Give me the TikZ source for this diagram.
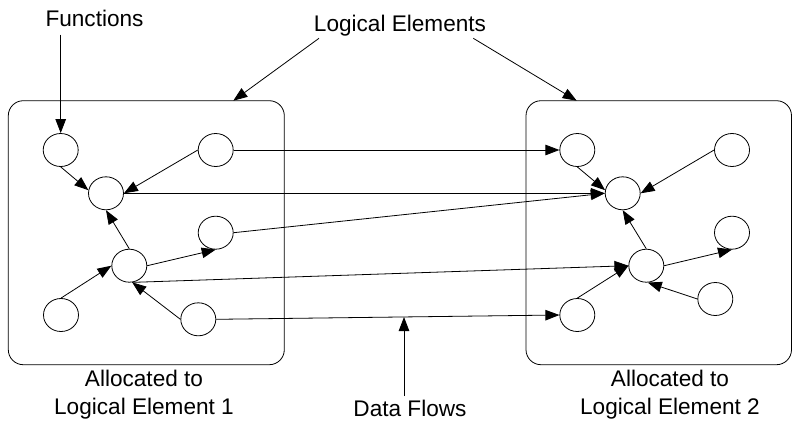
\documentclass[tikz,border=0pt]{standalone}
\usepackage{fontspec}
\setmainfont{Liberation Sans}
\usetikzlibrary{shapes.geometric,arrows.meta}
\begin{document}
\begin{tikzpicture}[x=1pt,y=-1pt,
  fn/.style={draw, ellipse, minimum width=35pt, minimum height=33pt, inner sep=0pt, line width=0.8pt},
  elem/.style={draw, rounded corners=15pt, line width=0.8pt, inner sep=0pt},
  flow/.style={line width=0.8pt, -{Triangle[length=14pt,width=10.5pt]}},
  lbl/.style={font=\fontsize{22.6}{28}\selectfont, inner sep=0pt, align=center}]
\useasboundingbox (0,0) rectangle (792,421);

% allocation boxes
\node[elem, minimum width=276pt, minimum height=264pt] (box1) at (146.3,232.7) {};
\node[elem, minimum width=265.5pt, minimum height=264pt] (box2) at (658.75,232.7) {};

% functions, element 1
\node[fn] (L1) at (60.7,150) {};
\node[fn] (L2) at (106,193.3) {};
\node[fn] (L3) at (215.7,150) {};
\node[fn] (L4) at (215.7,232.7) {};
\node[fn] (L5) at (129.3,265.7) {};
\node[fn] (L6) at (61,315) {};
\node[fn] (L7) at (198.3,319.3) {};

% functions, element 2
\node[fn] (R1) at (577.3,150) {};
\node[fn] (R2) at (622.7,193.3) {};
\node[fn] (R3) at (732,150) {};
\node[fn] (R4) at (732,232.7) {};
\node[fn] (R5) at (646.3,265.7) {};
\node[fn] (R6) at (577.3,315) {};
\node[fn] (R7) at (715.3,299) {};

% labels
\node[lbl, anchor=base] (tfun) at (94.5,26.5) {Functions};
\node[lbl, anchor=base] (tle) at (400,31.7) {Logical Elements};
\node[lbl] (ta1) at (144,394.5) {Allocated to\\Logical Element 1};
\node[lbl] (ta2) at (670,394.5) {Allocated to\\Logical Element 2};
\node[lbl, anchor=base] (tdf) at (410,416.5) {Data Flows};

% callout coordinates
\coordinate (cf) at (60.7,34.5);
\coordinate (cl1) at (319,38.3);
\coordinate (cl2) at (473.3,38.3);
\coordinate (b1top) at (233.3,100.7);
\coordinate (b2top) at (576.7,100.7);
\coordinate (cd) at (404,396);
\coordinate (dtip) at (404,317);

% callouts
\draw[flow] (cf) -- (L1.north);
\draw[flow] (cl1) -- (b1top);
\draw[flow] (cl2) -- (b2top);
\draw[flow] (cd) -- (dtip);

% internal flows, element 1
\draw[flow] (L1.south) -- (L2.170);
\draw[flow] (L3.west) -- (L2.east);
\draw[flow] (L5.north) -- (L2.south);
\draw[flow] (L6.north) -- (L5.west);
\draw[flow] (L5.east) -- (L4.south);
\draw[flow] (L7.west) -- (L5.-80);

% internal flows, element 2
\draw[flow] (R1.south) -- (R2.170);
\draw[flow] (R3.west) -- (R2.east);
\draw[flow] (R5.north) -- (R2.south);
\draw[flow] (R6.north) -- (R5.west);
\draw[flow] (R5.east) -- (R4.south);
\draw[flow] (R7.west) -- (R5.-85);

% data flows between elements
\draw[flow] (L3.east) -- (R1.west);
\draw[flow] (L2.east) -- (R2.west);
\draw[flow] (L4.east) -- (R2.west);
\draw[flow] (L5.-80) -- (R5.west);
\draw[flow] (L7.east) -- (R6.west);
\end{tikzpicture}
\end{document}
